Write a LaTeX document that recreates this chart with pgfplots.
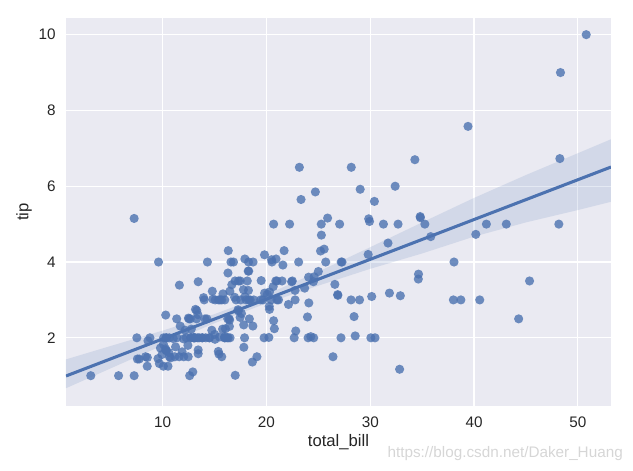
\documentclass[border=0pt]{standalone}
\usepackage{pgfplots}
\pgfplotsset{compat=1.18}
\usepackage{pgfplotstable}
\usepackage{fontspec}
\setmainfont{Liberation Sans}
\definecolor{sbblue}{HTML}{4C72B0}
\definecolor{sbbg}{HTML}{EAEAF2}
\definecolor{tickc}{HTML}{262626}
\pgfplotstableread{
x y
16.99 1.01
10.34 1.66
21.01 3.5
23.68 3.31
24.59 3.61
25.29 4.71
8.77 2.0
26.88 3.12
15.04 1.96
14.78 3.23
10.27 1.71
35.26 5.0
15.42 1.57
18.43 3.0
14.83 3.02
21.58 3.92
10.33 1.67
16.29 3.71
16.97 3.5
20.65 3.35
17.92 4.08
20.29 2.75
15.77 2.23
39.42 7.58
19.82 3.18
17.81 2.34
13.37 2.0
12.69 2.0
21.7 4.3
19.65 3.0
9.55 1.45
18.35 2.5
15.06 3.0
20.69 2.45
17.78 3.27
24.06 3.6
16.31 2.0
16.93 3.07
18.69 2.31
31.27 5.0
16.04 2.24
17.46 2.54
13.94 3.06
9.68 1.32
30.4 5.6
18.29 3.0
22.23 5.0
32.4 6.0
28.55 2.05
18.04 3.0
12.54 2.5
10.29 2.6
34.81 5.2
9.94 1.56
25.56 4.34
19.49 3.51
38.01 3.0
26.41 1.5
11.24 1.76
48.27 6.73
20.29 3.21
13.81 2.0
11.02 1.98
18.29 3.76
17.59 2.64
20.08 3.15
16.45 2.47
3.07 1.0
20.23 2.01
15.01 2.09
12.02 1.97
17.07 3.0
26.86 3.14
25.28 5.0
14.73 2.2
10.51 1.25
17.92 3.08
27.2 4.0
22.76 3.0
17.29 2.71
19.44 3.0
16.66 3.4
10.07 1.83
32.68 5.0
15.98 2.03
34.83 5.17
13.03 2.0
18.28 4.0
24.71 5.85
21.16 3.0
28.97 3.0
22.49 3.5
5.75 1.0
16.32 4.3
22.75 3.25
40.17 4.73
27.28 4.0
12.03 1.5
21.01 3.0
12.46 1.5
11.35 2.5
15.38 3.0
44.3 2.5
22.42 3.48
20.92 4.08
15.36 1.64
20.49 4.06
25.21 4.29
18.24 3.76
14.31 4.0
14.0 3.0
7.25 1.0
38.07 4.0
23.95 2.55
25.71 4.0
17.31 3.5
29.93 5.07
10.65 1.5
12.43 1.8
24.08 2.92
11.69 2.31
13.42 1.68
14.26 2.5
15.95 2.0
12.48 2.52
29.8 4.2
8.52 1.48
14.52 2.0
11.38 2.0
22.82 2.18
19.08 1.5
20.27 2.83
11.17 1.5
12.26 2.0
18.26 3.25
8.51 1.25
10.33 2.0
14.15 2.0
16.0 2.0
13.16 2.75
17.47 3.5
34.3 6.7
41.19 5.0
27.05 5.0
16.43 2.3
8.35 1.5
18.64 1.36
11.87 1.63
9.78 1.73
7.51 2.0
14.07 2.5
13.13 2.0
17.26 2.74
24.55 2.0
19.77 2.0
29.85 5.14
48.17 5.0
25.0 3.75
13.39 2.61
16.49 2.0
21.5 3.5
12.66 2.5
16.21 2.0
13.81 2.0
17.51 3.0
24.52 3.48
20.76 2.24
31.71 4.5
10.59 1.61
10.63 2.0
50.81 10.0
15.81 3.16
7.25 5.15
31.85 3.18
16.82 4.0
32.9 3.11
17.89 2.0
14.48 2.0
9.6 4.0
34.63 3.55
34.65 3.68
23.33 5.65
45.35 3.5
23.17 6.5
40.55 3.0
20.69 5.0
20.9 3.5
30.46 2.0
18.15 3.5
23.1 4.0
15.69 1.5
19.81 4.19
28.44 2.56
15.48 2.02
16.58 4.0
7.56 1.44
10.34 2.0
43.11 5.0
13.0 2.0
13.51 2.0
18.71 4.0
12.74 2.01
13.0 2.0
16.4 2.5
20.53 4.0
16.47 3.23
26.59 3.41
38.73 3.0
24.27 2.03
12.76 2.23
30.06 2.0
25.89 5.16
48.33 9.0
13.27 2.5
28.17 6.5
12.9 1.1
28.15 3.0
11.59 1.5
7.74 1.44
30.14 3.09
12.16 2.2
13.42 3.48
8.58 1.92
15.98 3.0
13.42 1.58
16.27 2.5
10.09 2.0
20.45 3.0
13.28 2.72
22.12 2.88
24.01 2.0
15.69 3.0
11.61 3.39
10.77 1.47
15.53 3.0
10.07 1.25
12.6 1.0
32.83 1.17
35.83 4.67
29.03 5.92
27.18 2.0
22.67 2.0
17.82 1.75
18.78 3.0
}\tips
\pgfplotstableread{
x y
0.683 0.67
5 1.195
10 1.80
15 2.386
20 2.911
25 3.376
30 3.821
35 4.226
40 4.671
45 5.046
50 5.371
53.197 5.59
53.197 7.24
50 6.871
45 6.296
40 5.691
35 5.046
30 4.391
25 3.746
20 3.141
15 2.626
10 2.19
5 1.785
0.683 1.43
}\band
\pgfplotstableread{
x y
0.683 0.992
53.197 6.507
}\fit
\begin{document}
\begin{tikzpicture}
\path[use as bounding box] (0,0) rectangle (455.76pt,338.4pt);
\begin{axis}[
  at={(47.52pt,46.08pt)}, anchor=south west,
  scale only axis, width=392.4pt, height=279.36pt,
  xmin=0.683, xmax=53.197, ymin=0.2, ymax=10.44,
  axis background/.style={fill=sbbg},
  axis line style={draw=none},
  xtick={10,20,30,40,50}, ytick={2,4,6,8,10},
  major tick length=0pt,
  grid=major, grid style={white, line width=0.9pt},
  /pgf/number format/assume math mode=true,
  ticklabel style={font=\fontsize{11}{13}\selectfont, text=tickc},
  xticklabel style={yshift=-4pt},
  yticklabel style={xshift=-4pt},
  label style={font=\fontsize{12}{14}\selectfont, text=tickc},
  xlabel={total\_bill}, ylabel={tip},
  xlabel style={yshift=2pt},
  ylabel style={yshift=-2pt},
]
\addplot[only marks, color=sbblue, mark=*, mark size=3.3pt, mark options={solid, fill=sbblue, draw=sbblue, line width=0pt, fill opacity=0.8, draw opacity=0}] table[x=x,y=y] {\tips};
\addplot[draw=none, fill=sbblue, fill opacity=0.15] table[x=x,y=y] {\band} -- cycle;
\addplot[sbblue, line width=2.2pt] table[x=x,y=y] {\fit};
\end{axis}
\node[anchor=base east, inner sep=0pt, text=black!16, font=\fontsize{11}{13}\selectfont] at (448.6pt,9pt) {https://blog.csdn.net/Daker\_Huang};
\end{tikzpicture}
\end{document}
